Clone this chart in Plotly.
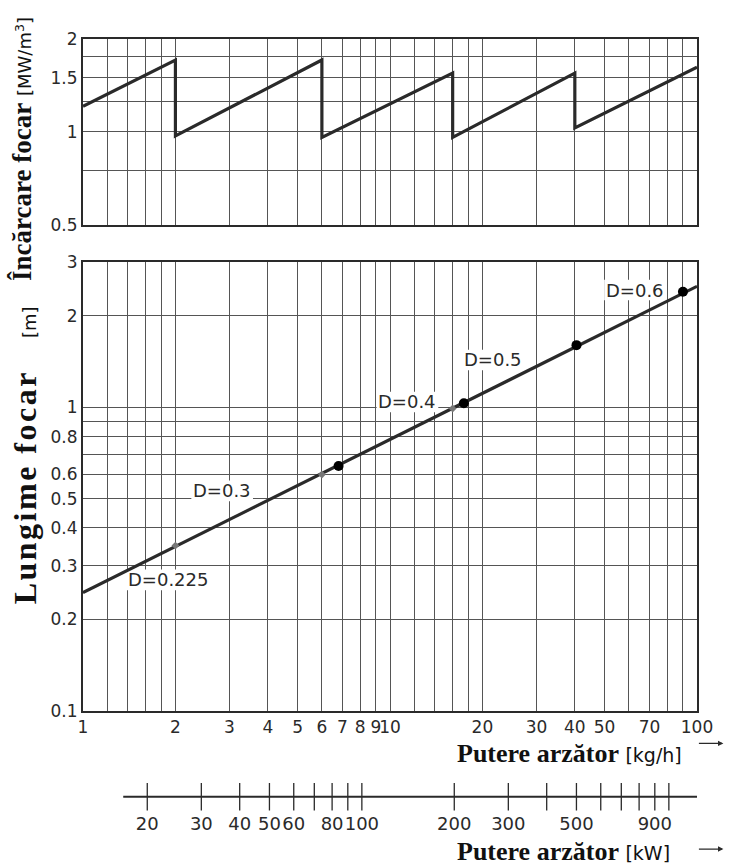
import math
import plotly.graph_objects as go

# ---- data -------------------------------------------------------------
# burner output grid (kg/h) and which grid values carry a label
kg_grid = [1, 1.2, 1.4, 1.6, 1.8, 2, 3, 4, 5, 6, 7, 8, 9, 10,
           12, 14, 16, 18, 20, 30, 40, 50, 60, 70, 80, 90, 100]
kg_labeled = [1, 2, 3, 4, 5, 6, 7, 8, 9, 10, 20, 30, 40, 50, 70, 100]

# furnace load (MW/m3) grid and labels
load_grid = [0.5, 0.75, 1, 1.25, 1.5, 1.75, 2]
load_labeled = [0.5, 1, 1.5, 2]

# furnace length (m) grid and labels
len_grid = [0.1, 0.2, 0.3, 0.4, 0.5, 0.6, 0.7, 0.8, 0.9, 1, 2, 3]
len_labeled = [0.1, 0.2, 0.3, 0.4, 0.5, 0.6, 0.8, 1, 2, 3]

# furnace load vs. burner output (sawtooth, one tooth per diameter)
load_x = [1, 2, 2, 6, 6, 16, 16, 40, 40, 100]
load_y = [1.21, 1.71, 0.97, 1.71, 0.96, 1.55, 0.96, 1.55, 1.03, 1.62]

# furnace length vs. burner output
len_x = [1, 100]
len_y = [0.245, 2.5]
step_x = [2, 6, 16]
step_y = [0.35, 0.60, 0.99]
dot_x = [6.8, 17.4, 40.5, 90]
dot_y = [0.64, 1.03, 1.6, 2.4]

# diameter labels
d_text = ["D=0.225", "D=0.3", "D=0.4", "D=0.5", "D=0.6"]
d_x = [1.89, 2.84, 11.4, 21.7, 62.8]
d_y = [0.27, 0.53, 1.04, 1.43, 2.43]

# secondary output scale in kW
kw_per_kg = 12.35
kw_ticks = [20, 30, 40, 50, 60, 70, 80, 90, 100,
            200, 300, 400, 500, 600, 700, 800, 900, 1000]
kw_labeled = [20, 30, 40, 50, 60, 80, 100, 200, 300, 500, 900]
kw_line = [16.7, 1235]

# ---- styling ----------------------------------------------------------
INK = "#2a2a2a"
GRID = "#555555"
SANS = "DejaVu Sans, Liberation Sans, sans-serif"
SERIF = "Liberation Serif, Times New Roman, serif"
TICKFONT = dict(family=SANS, size=17, color=INK)
LABEL_SIZE = 18
PX_PER_DECADE_X = 307.0
PX_PER_DECADE_Y = 305.0


def fmt(v):
    return ("%g" % v)


def ticktexts(grid, labeled):
    return [fmt(v) if v in labeled else "" for v in grid]


fig = go.Figure()

fig.add_trace(go.Scatter(x=load_x, y=load_y, mode="lines",
                         line=dict(color=INK, width=3.2),
                         xaxis="x", yaxis="y", hoverinfo="skip"))

fig.add_trace(go.Scatter(x=len_x, y=len_y, mode="lines",
                         line=dict(color=INK, width=3.2),
                         xaxis="x2", yaxis="y2", hoverinfo="skip"))
fig.add_trace(go.Scatter(x=step_x, y=step_y, mode="markers",
                         marker=dict(symbol="diamond", size=6, color="#777777"),
                         xaxis="x2", yaxis="y2", hoverinfo="skip"))
fig.add_trace(go.Scatter(x=dot_x, y=dot_y, mode="markers",
                         marker=dict(symbol="circle", size=10, color="#000000"),
                         xaxis="x2", yaxis="y2", hoverinfo="skip"))

# kW scale: base line with crossing ticks
fig.add_trace(go.Scatter(x=kw_line, y=[0, 0], mode="lines",
                         line=dict(color=INK, width=2),
                         xaxis="x3", yaxis="y3", hoverinfo="skip"))
fig.add_trace(go.Scatter(x=kw_ticks, y=[0] * len(kw_ticks), mode="markers",
                         marker=dict(symbol="line-ns", size=27,
                                     line=dict(color=INK, width=1.3)),
                         xaxis="x3", yaxis="y3", hoverinfo="skip"))

frame = dict(showline=True, linecolor=INK, linewidth=2, mirror=True,
             showgrid=True, gridcolor=GRID, gridwidth=1, ticks="",
             zeroline=False)

# diameter labels: white patch over the grid (under the curve), text on top
shapes = []
annotations = []
for t, x, y in zip(d_text, d_x, d_y):
    digits = sum(c.isdigit() for c in t)
    w_px = LABEL_SIZE * (1.93 + 0.636 * digits) + 4
    h_px = LABEL_SIZE * 1.15
    hw = w_px / 2 / PX_PER_DECADE_X
    hh = h_px / 2 / PX_PER_DECADE_Y
    shapes.append(dict(type="rect", xref="x2", yref="y2", layer="between",
                       x0=x / 10 ** hw, x1=x * 10 ** hw,
                       y0=y / 10 ** hh, y1=y * 10 ** hh,
                       fillcolor="white", line=dict(width=0)))
    annotations.append(dict(x=math.log10(x), y=math.log10(y), xref="x2", yref="y2",
                            text=t, showarrow=False,
                            xanchor="center", yanchor="middle",
                            font=dict(family=SANS, size=LABEL_SIZE, color=INK)))

annotations += [
    dict(x=-0.099, y=0.866, xref="paper", yref="paper", textangle=-90,
         xanchor="center", yanchor="middle", showarrow=False,
         text="<b>Încărcare focar</b> <span style='font-family:DejaVu Sans;font-size:18px'>[MW/m<sup>3</sup>]</span>",
         font=dict(family=SERIF, size=27, color="#111111")),
    dict(x=-0.094, y=0.492, xref="paper", yref="paper", textangle=-90,
         xanchor="center", yanchor="middle", showarrow=False,
         text="<span style='letter-spacing:2.5px'><b>Lungime focar</b></span>"
              "    <span style='font-family:DejaVu Sans;font-size:18px'>[m]</span>",
         font=dict(family=SERIF, size=32, color="#111111")),
    dict(x=0.606, y=0.1279, xref="paper", yref="paper",
         xanchor="left", yanchor="middle", showarrow=False,
         text="<b>Putere arzător</b> <span style='font-family:DejaVu Sans;font-size:19px'>[kg/h]</span>",
         font=dict(family=SERIF, size=26, color="#111111")),
    dict(x=0.606, y=0.0084, xref="paper", yref="paper",
         xanchor="left", yanchor="middle", showarrow=False,
         text="<b>Putere arzător</b> <span style='font-family:DejaVu Sans;font-size:19px'>[kW]</span>",
         font=dict(family=SERIF, size=26, color="#111111")),
    dict(x=1.043, y=0.1399, xref="paper", yref="paper", text="",
         showarrow=True, ax=-26, ay=0, arrowhead=2, arrowsize=0.9,
         arrowwidth=1.2, arrowcolor=INK),
    dict(x=1.043, y=0.0109, xref="paper", yref="paper", text="",
         showarrow=True, ax=-26, ay=0, arrowhead=2, arrowsize=0.9,
         arrowwidth=1.2, arrowcolor=INK),
]

fig.update_layout(
    width=730, height=868,
    margin=dict(l=83, r=33, t=39, b=0),
    paper_bgcolor="white", plot_bgcolor="white",
    showlegend=False,
    xaxis=dict(type="log", range=[0, 2], domain=[0, 1], anchor="y",
               tickvals=kg_grid, showticklabels=False, **frame),
    yaxis=dict(type="log", range=[math.log10(0.5), math.log10(2)],
               domain=[0.7732, 1.0], anchor="x",
               tickvals=load_grid, ticktext=ticktexts(load_grid, load_labeled),
               tickfont=TICKFONT, **frame),
    xaxis2=dict(type="log", range=[0, 2], domain=[0, 1], anchor="y2",
                tickvals=kg_grid, ticktext=ticktexts(kg_grid, kg_labeled),
                tickfont=TICKFONT, tickangle=0, **frame),
    yaxis2=dict(type="log", range=[-1, math.log10(3)],
                domain=[0.1797, 0.7274], anchor="x2",
                tickvals=len_grid, ticktext=ticktexts(len_grid, len_labeled),
                tickfont=TICKFONT, **frame),
    xaxis3=dict(type="log", range=[math.log10(kw_per_kg), math.log10(100 * kw_per_kg)],
                domain=[0, 1], anchor="y3", showline=False, showgrid=False,
                zeroline=False, ticks="", tickangle=0,
                tickvals=kw_labeled, ticktext=[fmt(v) for v in kw_labeled],
                tickfont=dict(family=SANS, size=18, color=INK)),
    yaxis3=dict(range=[-1, 1], domain=[0.0579, 0.0917], anchor="x3",
                visible=False),
    shapes=shapes,
    annotations=annotations,
)

fig.write_html("out.html")
